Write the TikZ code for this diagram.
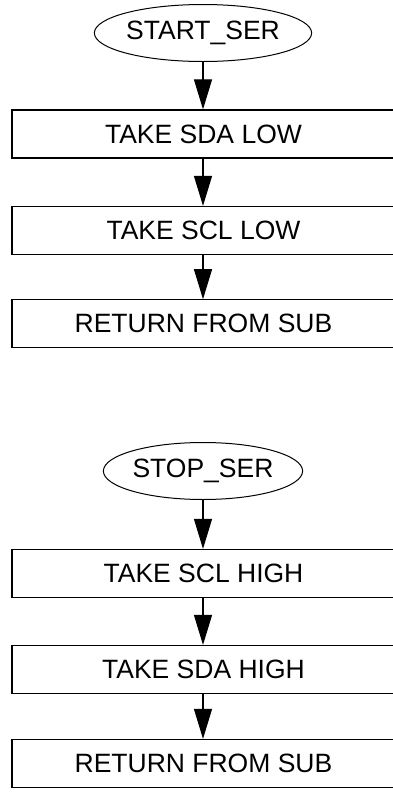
\documentclass[tikz,border=0pt]{standalone}
\usepackage{fontspec}
\setmainfont{Liberation Sans}
\usetikzlibrary{shapes.geometric,arrows.meta}
\begin{document}
\begin{tikzpicture}[x=1pt,y=-1pt,
  every node/.style={font=\fontsize{26.5}{30}\selectfont, inner sep=0pt},
  term/.style={draw, line width=1pt, ellipse, minimum width=190pt, minimum height=57pt},
  stepbox/.style={draw, line width=1.2pt, rectangle, minimum width=383pt, minimum height=48pt},
  arr/.style={line width=1.1pt, -{Triangle[length=30pt,width=18pt]}}]
\useasboundingbox (0,0) rectangle (393,793);
\node[term] (e1) at (203,33) {START\_SER};
\node[stepbox] (b1) at (203.5,134) {TAKE SDA LOW};
\node[stepbox] (b2) at (203.5,230.5) {TAKE SCL LOW};
\node[stepbox] (b3) at (203.5,323.8) {RETURN FROM SUB};
\node[term] (e2) at (203,471) {STOP\_SER};
\node[stepbox] (b4) at (203.5,573.5) {TAKE SCL HIGH};
\node[stepbox] (b5) at (203.5,669.5) {TAKE SDA HIGH};
\node[stepbox] (b6) at (203.5,763.5) {RETURN FROM SUB};
\draw[arr] (e1.south) -- (e1.south |- b1.north);
\draw[arr] (b1.south -| e1) -- (b2.north -| e1);
\draw[arr] (b2.south -| e1) -- (b3.north -| e1);
\draw[arr] (e2.south) -- (e2.south |- b4.north);
\draw[arr] (b4.south -| e2) -- (b5.north -| e2);
\draw[arr] (b5.south -| e2) -- (b6.north -| e2);
\end{tikzpicture}
\end{document}
